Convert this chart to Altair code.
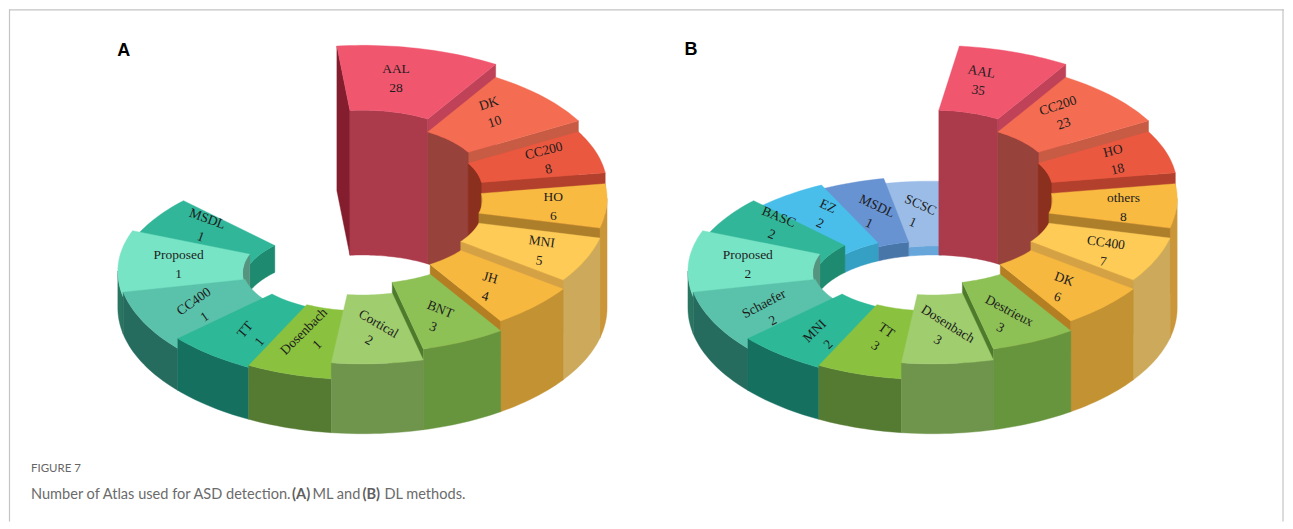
import math
import numpy as np
import altair as alt

# ---------- values ----------
names_a = ["AAL","DK","CC200","HO","MNI","JH","BNT","Cortical","Dosenbach","TT","CC400","Proposed","MSDL"]
values_a = [28,10,8,6,5,4,3,2,1,1,1,1,1]
names_b = ["AAL","CC200","HO","others","CC400","DK","Destrieux","Dosenbach","TT","MNI","Schaefer","Proposed","BASC","EZ","MSDL","SCSC"]
values_b = [35,23,18,8,7,6,3,3,3,2,2,2,2,2,1,1]

# the drawn angle of every slice boundary (deg), and the raised height of each slice
angles_a = [264,303,332,353,373.8,394.9,415.6,435.6,457.3,477.7,499,528,560,583]
angles_b = [273,303,332,353,373.8,394.9,415.6,435.6,457.3,477.7,499,528,560,583,603,618.5,634]
outer_start_a = 264
outer_start_b = 276.3
heights = [145,132,121,110,100,91,81,70,54,52,42,37,27,18,14,9]

tops = ["#F1566F","#F46D52","#EB5840","#F8BA41","#FDCB56","#F7B840","#8DC055","#A0CD6E","#8AC23F","#2DB898","#5AC2AA","#78E4C6","#32B699","#4ABEEB","#6893D3","#9ABCE6"]
walls = ["#AB3A4B","#97423A","#8B2F1E","#CB9638","#CDAA5B","#C39233","#67953E","#6F944B","#557B33","#157060","#256B5E","#2A7561","#256B5E","#359FC4","#4876A8","#66A6DB"]
inner_walls = ["#AB3A4B","#97423A","#8B2F1E","#AD7F2B","#8B2F1E","#8B2F1E","#8B2F1E","#8B2F1E","#8B2F1E","#8B2F1E","#55957F","#55957F","#1E8A70","#359FC4","#4876A8","#66A6DB"]
steps = ["#BF4258","#C75B43","#B2402D","#AD7F2B","#D5A145","#B47F23","#4E7A2B","#6F944B","#557B33","#157060","#256B5E","#2A7561","#1E8A70","#359FC4","#4876A8","#66A6DB"]
first_face = "#841E2E"

# label layout: rotation and nudge from the slice centre
label_angle_a = [0,-18,-14,0,8,15,22,30,-45,-50,-35,0,20]
label_nudge_a = [(-9,-2),(-5,-6),(10,-2),(9,2),(12,5),(-3,5),(-1,8),(0,3),(3,-3),(3,8),(0,2),(-2,-1),(-3,-9)]
label_angle_b = [10,-18,-14,0,8,20,28,32,35,-45,-28,0,22,25,25,24]
label_nudge_b = [(-9,-1),(-6,-4),(9,-2),(9,3),(6,6),(0,6),(-3,9),(-1,3),(3,-3),(2,10),(-1,5),(-3,-1),(-2,-11),(1,-7),(0.5,1.5),(-4,0)]

OX, OY = -8, -8
CX_A, CX_B = 362, 933
CY_OUT, RX_OUT, RY_FRONT, RY_BACK = 307, 245, 126, 118
CY_IN, RX_IN, RY_IN = 309, 120, 55
LABEL_GAP = 19


def outer(cx, t, h=0):
    r = math.radians(t)
    s = math.sin(r)
    return [cx + RX_OUT * math.cos(r) + OX, CY_OUT + (RY_FRONT if s > 0 else RY_BACK) * s - h + OY]


def inner(cx, t, h=0):
    r = math.radians(t)
    return [cx + RX_IN * math.cos(r) + OX, CY_IN + RY_IN * math.sin(r) - h + OY]


def sweep(a, b):
    n = max(2, int(abs(b - a) / 1.5) + 2)
    return [float(v) for v in np.linspace(a, b, n)]


def clip(a, b, windows):
    out = []
    for lo, hi in windows:
        l, h = max(a, lo), min(b, hi)
        if h > l:
            out.append((l, h))
    return out


def poly(points, fill):
    ring = points + [points[0]]
    return {"type": "Feature", "geometry": {"type": "Polygon", "coordinates": [ring]},
            "properties": {"fill": fill}}


def panel(cx, bounds, outer_start, names, values, l_angle, l_nudge):
    n = len(names)
    feats, labels = [], []
    order = list(range(n - 1, 7, -1)) + list(range(8))
    for i in order:
        a, b, h = bounds[i], bounds[i + 1], heights[i]
        oa = outer_start if i == 0 else a
        if i == 0 and math.cos(math.radians(a)) < 0:
            feats.append(poly([outer(cx, a, h), inner(cx, a, h), inner(cx, a), outer(cx, a)], first_face))
        if math.cos(math.radians(b)) > 0:
            feats.append(poly([outer(cx, b, h), inner(cx, b, h), inner(cx, b), outer(cx, b)], steps[i]))
        for l, r in clip(a, b, [(180, 360), (540, 720)]):
            ts = sweep(l, r)
            feats.append(poly([inner(cx, t, h) for t in ts] + [inner(cx, t) for t in reversed(ts)], inner_walls[i]))
        for l, r in clip(a, b, [(0, 180), (360, 540)]):
            ts = sweep(l, r)
            feats.append(poly([outer(cx, t, h) for t in ts] + [outer(cx, t) for t in reversed(ts)], walls[i]))
        feats.append(poly([outer(cx, t, h) for t in sweep(oa, b)] + [inner(cx, t, h) for t in reversed(sweep(a, b))], tops[i]))
    for i in range(n):
        t = (bounds[i] + bounds[i + 1]) / 2
        po, pi = outer(cx, t, heights[i]), inner(cx, t, heights[i])
        mx = (po[0] + pi[0]) / 2 + l_nudge[i][0]
        my = (po[1] + pi[1]) / 2 + l_nudge[i][1]
        ang = math.radians(l_angle[i])
        ux, uy = math.sin(ang), -math.cos(ang)
        for text, sign in ((names[i], 1), (str(values[i]), -1)):
            labels.append({"x": mx + sign * ux * LABEL_GAP / 2, "y": my + sign * uy * LABEL_GAP / 2,
                           "text": text, "angle": l_angle[i] % 360})
    return feats, labels


feats_a, labels_a = panel(CX_A, angles_a, outer_start_a, names_a, values_a, label_angle_a, label_nudge_a)
feats_b, labels_b = panel(CX_B, angles_b, outer_start_b, names_b, values_b, label_angle_b, label_nudge_b)

W, H = 1277, 513
proj = alt.Projection(type="identity", scale=1, translate=[0, 0])

shapes = alt.Chart(alt.Data(values=feats_a + feats_b)).mark_geoshape(strokeWidth=0.4).encode(
    fill=alt.Fill("properties.fill:N", scale=None),
    stroke=alt.Stroke("properties.fill:N", scale=None),
).project(**proj.to_dict())

px = alt.X("x:Q", scale=alt.Scale(domain=[0, W], range=[0, W]), axis=None)
py = alt.Y("y:Q", scale=alt.Scale(domain=[0, H], range=[0, H]), axis=None)

slice_text = alt.Chart(alt.Data(values=labels_a + labels_b)).mark_text(
    font="Liberation Serif", fontSize=13.5, color="#1c1c1c", align="center", baseline="middle"
).encode(x=px, y=py, text="text:N", angle=alt.Angle("angle:Q", scale=None))

letters = alt.Chart(alt.Data(values=[
    {"x": 123 + OX, "y": 50 + OY, "text": "A"},
    {"x": 691 + OX, "y": 49 + OY, "text": "B"},
])).mark_text(font="Liberation Sans", fontSize=18, fontWeight="bold", color="#000000", align="center", baseline="middle").encode(
    x=px, y=py, text="text:N")

caption_head = alt.Chart(alt.Data(values=[{"x": 30 + OX, "y": 468 + OY, "text": "FIGURE 7"}])).mark_text(
    font="Lato", fontSize=11.5, color="#666666", align="left", baseline="middle").encode(x=px, y=py, text="text:N")

caption_plain = alt.Chart(alt.Data(values=[
    {"x": 30 + OX, "y": 494 + OY, "text": "Number of Atlas used for ASD detection."},
    {"x": 312 + OX, "y": 494 + OY, "text": "ML and"},
    {"x": 384 + OX, "y": 494 + OY, "text": "DL methods."},
])).mark_text(font="Lato", fontSize=14.6, color="#6b6b6b", align="left", baseline="middle").encode(x=px, y=py, text="text:N")

caption_bold = alt.Chart(alt.Data(values=[
    {"x": 291.5 + OX, "y": 494 + OY, "text": "(A)"},
    {"x": 362 + OX, "y": 494 + OY, "text": "(B)"},
])).mark_text(font="Lato", fontSize=14.6, fontWeight="bold", color="#5f5f5f", align="left", baseline="middle").encode(x=px, y=py, text="text:N")

frame_data = alt.Data(values=[
    {"x": 0, "y": 0.5, "x2": W, "y2": 0.5},
    {"x": 0.5, "y": 0, "x2": 0.5, "y2": H},
    {"x": W - 1, "y": 0, "x2": W - 1, "y2": H},
])
frame = alt.Chart(frame_data).mark_rule(color="#c4c4c4", strokeWidth=1.2).encode(
    x=px, y=py, x2="x2:Q", y2="y2:Q")

chart = alt.layer(frame, shapes, slice_text, letters, caption_head, caption_plain, caption_bold).properties(
    width=W, height=H, padding=0
).configure_view(strokeWidth=0)

chart.save("out.html", embed_options={"renderer": "svg", "actions": False})
